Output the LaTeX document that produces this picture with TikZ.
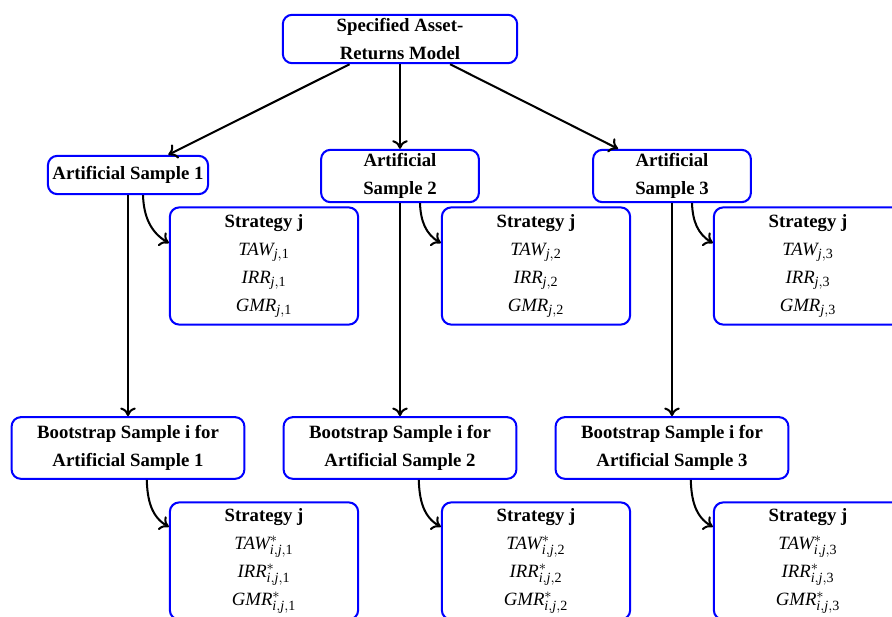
\documentclass[tikz,border=0pt]{standalone}
\usepackage{amsmath}
\usepackage{fontspec}
\setmainfont{Liberation Serif}
\usetikzlibrary{arrows.meta}
\DeclareMathSizes{12}{12}{9}{7}
\newcommand{\mv}[1]{\textit{#1}}

\begin{document}
\begin{tikzpicture}[x=0.64pt, y=0.64pt,
  box/.style={draw=blue, line width=1.3pt, rounded corners=6pt, align=center,
    inner sep=1pt, font=\fontsize{12}{18}\selectfont},
  head/.style={box, font=\fontsize{12}{18}\selectfont\bfseries},
  res/.style={box, minimum width=120.5pt, minimum height=75pt},
  boot/.style={head, minimum width=149pt, minimum height=39.5pt},
  link/.style={-{To[length=5.5pt,width=10pt]}, line width=1.3pt}]
  \path[use as bounding box, clip] (0,0) rectangle (892,-617);
  \node[head, minimum width=150pt, minimum height=31pt] (model) at (400,-39)
    {Specified Asset-\\Returns Model};
  \node[head, minimum width=102.5pt, minimum height=24.5pt] (art1) at (128,-175)
    {Artificial Sample 1};
  \node[head, minimum width=101pt, minimum height=33.5pt] (art2) at (400,-176)
    {Artificial\\Sample 2};
  \node[head, minimum width=101pt, minimum height=33.5pt] (art3) at (672,-176)
    {Artificial\\Sample 3};
  \node[res] (str1) at (264,-266) {\textbf{Strategy j}\\$\mv{TAW}_{\mv{j},\text{1}}$\\
    $\mv{IRR}_{\mv{j},\text{1}}$\\$\mv{GMR}_{\mv{j},\text{1}}$};
  \node[res] (str2) at (536,-266) {\textbf{Strategy j}\\$\mv{TAW}_{\mv{j},\text{2}}$\\
    $\mv{IRR}_{\mv{j},\text{2}}$\\$\mv{GMR}_{\mv{j},\text{2}}$};
  \node[res] (str3) at (808,-266) {\textbf{Strategy j}\\$\mv{TAW}_{\mv{j},\text{3}}$\\
    $\mv{IRR}_{\mv{j},\text{3}}$\\$\mv{GMR}_{\mv{j},\text{3}}$};
  \node[boot] (boot1) at (128,-448) {Bootstrap Sample i for\\Artificial Sample 1};
  \node[boot] (boot2) at (400,-448) {Bootstrap Sample i for\\Artificial Sample 2};
  \node[boot] (boot3) at (672,-448) {Bootstrap Sample i for\\Artificial Sample 3};
  \node[res] (bst1) at (264,-561) {\textbf{Strategy j}\\$\mv{TAW}^{*}_{\mv{i},\mv{j},\text{1}}$\\
    $\mv{IRR}^{*}_{\mv{i},\mv{j},\text{1}}$\\$\mv{GMR}^{*}_{\mv{i},\mv{j},\text{1}}$};
  \node[res] (bst2) at (536,-561) {\textbf{Strategy j}\\$\mv{TAW}^{*}_{\mv{i},\mv{j},\text{2}}$\\
    $\mv{IRR}^{*}_{\mv{i},\mv{j},\text{2}}$\\$\mv{GMR}^{*}_{\mv{i},\mv{j},\text{2}}$};
  \node[res] (bst3) at (808,-561) {\textbf{Strategy j}\\$\mv{TAW}^{*}_{\mv{i},\mv{j},\text{3}}$\\
    $\mv{IRR}^{*}_{\mv{i},\mv{j},\text{3}}$\\$\mv{GMR}^{*}_{\mv{i},\mv{j},\text{3}}$};
  \draw[link] (model) -- (art1);
  \draw[link] (model) -- (art2);
  \draw[link] (model) -- (art3);
  \draw[link] (art1) -- (boot1);
  \draw[link] (art2) -- (boot2);
  \draw[link] (art3) -- (boot3);
  \draw[link] ([xshift=9.6pt]art1.south) to[out=-88, in=150] ([yshift=14.7pt]str1.west);
  \draw[link] ([xshift=12.8pt]art2.south) to[out=-88, in=150] ([yshift=14.7pt]str2.west);
  \draw[link] ([xshift=12.8pt]art3.south) to[out=-88, in=150] ([yshift=14.7pt]str3.west);
  \draw[link] ([xshift=12pt]boot1.south) to[out=-88, in=150] ([yshift=21.8pt]bst1.west);
  \draw[link] ([xshift=12pt]boot2.south) to[out=-88, in=150] ([yshift=21.8pt]bst2.west);
  \draw[link] ([xshift=12pt]boot3.south) to[out=-88, in=150] ([yshift=21.8pt]bst3.west);
\end{tikzpicture}
\end{document}
